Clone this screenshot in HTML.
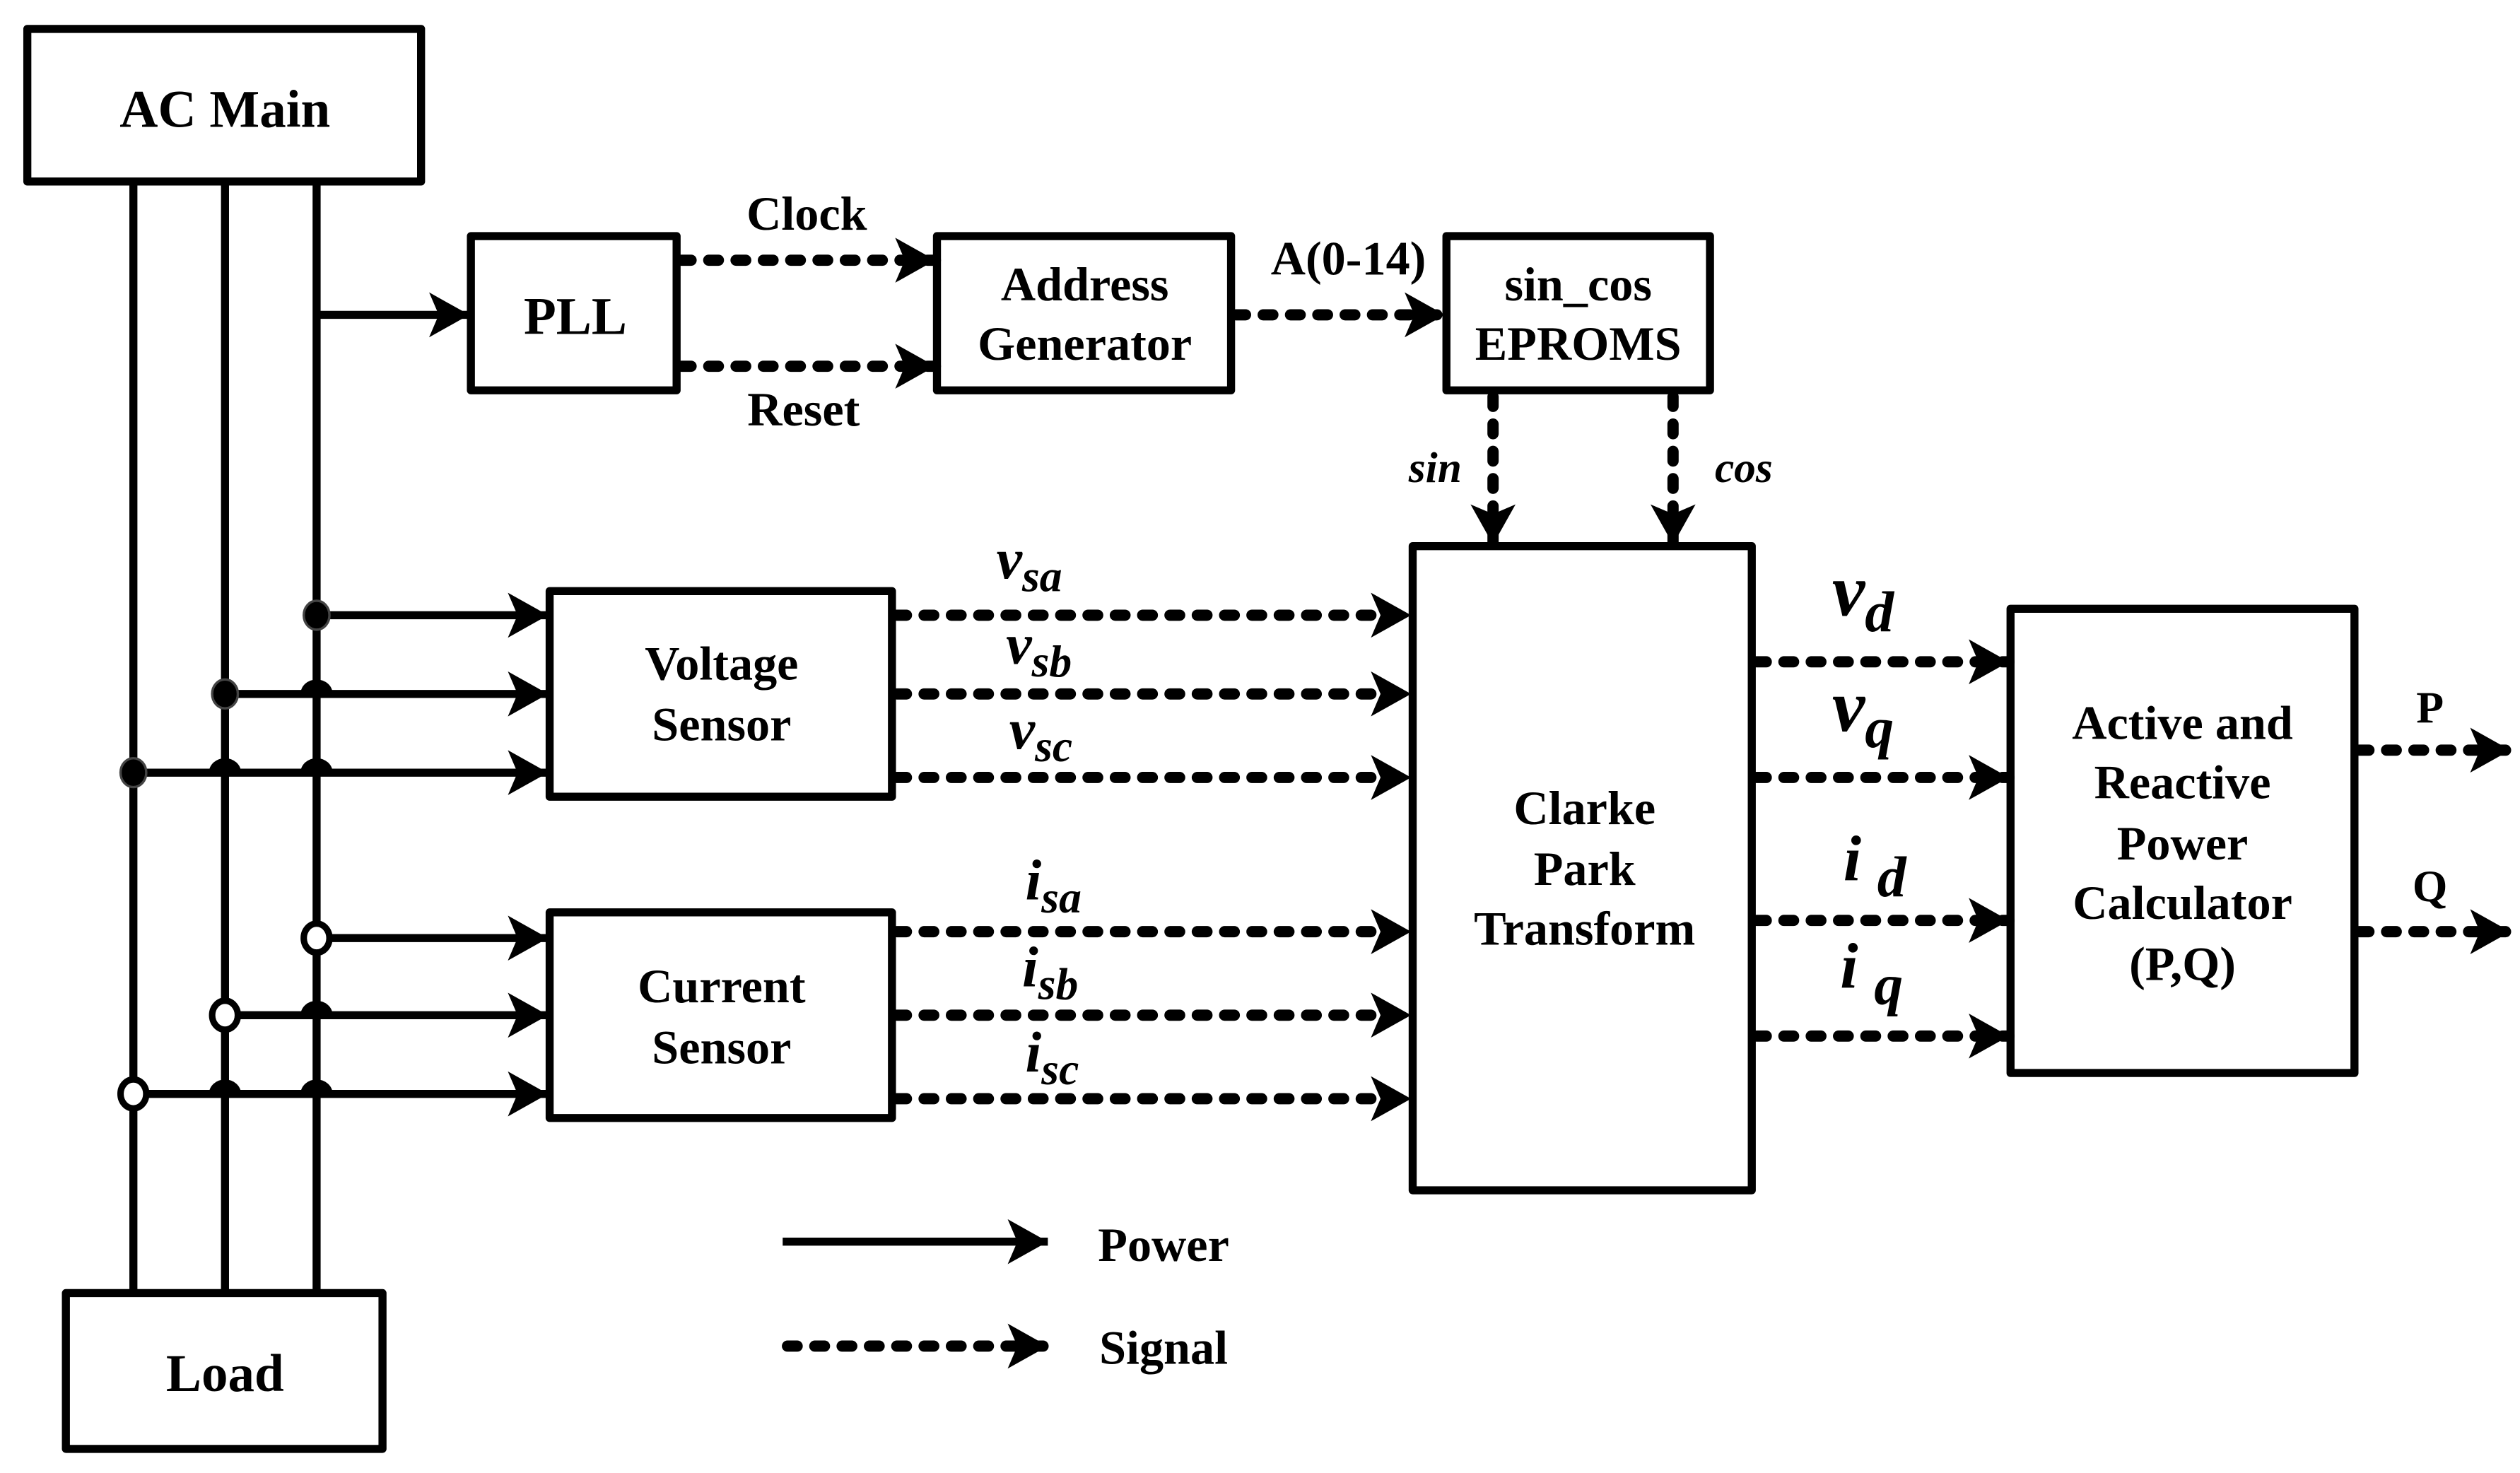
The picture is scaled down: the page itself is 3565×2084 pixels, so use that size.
<!DOCTYPE html>
<html><head><meta charset="utf-8"><style>
html,body{margin:0;padding:0;background:#fff}
svg{display:block}
text{font-family:"Liberation Serif","Times New Roman","DejaVu Serif",serif;font-weight:bold;fill:#000}
</style></head><body>
<svg width="3565" height="2084" viewBox="0 0 1568 917" preserveAspectRatio="none" xmlns="http://www.w3.org/2000/svg">
<defs>
<marker id="a" markerUnits="userSpaceOnUse" markerWidth="30" markerHeight="30" refX="25" refY="14" orient="auto">
<path d="M0,0 L25,14 L0,28 L6,14 z" fill="#000"/>
</marker>
</defs>
<g fill="none" stroke="#000" stroke-width="5" stroke-linejoin="round">
<rect x="17" y="18" width="245" height="95"/>
<rect x="41" y="805" width="197" height="97"/>
<rect x="293" y="147" width="128" height="96"/>
<rect x="583" y="147" width="183" height="96"/>
<rect x="900" y="147" width="164" height="96"/>
<rect x="879" y="340" width="211" height="401"/>
<rect x="342" y="368" width="213" height="128"/>
<rect x="342" y="568" width="213" height="128"/>
<rect x="1251" y="379" width="214" height="289"/>
</g>
<g stroke="#000" stroke-width="5" fill="none">
<line x1="83" y1="113" x2="83" y2="805"/>
<line x1="140" y1="113" x2="140" y2="805"/>
<line x1="197" y1="113" x2="197" y2="805"/>
<g marker-end="url(#a)">
<line x1="197" y1="196" x2="292" y2="196"/>
<line x1="197" y1="383" x2="341" y2="383"/>
<line x1="140" y1="432" x2="341" y2="432"/>
<line x1="83" y1="481" x2="341" y2="481"/>
<line x1="197" y1="584" x2="341" y2="584"/>
<line x1="140" y1="632" x2="341" y2="632"/>
<line x1="83" y1="681" x2="341" y2="681"/>
<line x1="487" y1="773" x2="652" y2="773"/>
</g>
</g>
<g fill="#000">
<path d="M187,432 A10,9 0 0 1 207,432 z"/>
<path d="M130,481 A10,9 0 0 1 150,481 z"/>
<path d="M187,481 A10,9 0 0 1 207,481 z"/>
<path d="M187,632 A10,9 0 0 1 207,632 z"/>
<path d="M130,681 A10,9 0 0 1 150,681 z"/>
<path d="M187,681 A10,9 0 0 1 207,681 z"/>
</g>
<g fill="#000" stroke="#444" stroke-width="1.5">
<ellipse cx="197" cy="383" rx="8" ry="9"/>
<ellipse cx="140" cy="432" rx="8" ry="9"/>
<ellipse cx="83" cy="481" rx="8" ry="9"/>
</g>
<g fill="#fff" stroke="#000" stroke-width="4">
<ellipse cx="197" cy="584" rx="8" ry="9"/>
<ellipse cx="140" cy="632" rx="8" ry="9"/>
<ellipse cx="83" cy="681" rx="8" ry="9"/>
</g>
<g stroke="#000" stroke-width="7" stroke-linecap="round" stroke-dasharray="6 11" fill="none" marker-end="url(#a)">
<line x1="424" y1="162" x2="582" y2="162"/>
<line x1="424" y1="228" x2="582" y2="228"/>
<line x1="769" y1="196" x2="899" y2="196"/>
<line x1="929" y1="247" x2="929" y2="339"/>
<line x1="1041" y1="247" x2="1041" y2="339"/>
<line x1="558" y1="383" x2="878" y2="383"/>
<line x1="558" y1="432" x2="878" y2="432"/>
<line x1="558" y1="484" x2="878" y2="484"/>
<line x1="558" y1="580" x2="878" y2="580"/>
<line x1="558" y1="632" x2="878" y2="632"/>
<line x1="558" y1="684" x2="878" y2="684"/>
<line x1="1093" y1="412" x2="1250" y2="412"/>
<line x1="1093" y1="484" x2="1250" y2="484"/>
<line x1="1093" y1="573" x2="1250" y2="573"/>
<line x1="1093" y1="645" x2="1250" y2="645"/>
<line x1="1468" y1="467" x2="1562" y2="467"/>
<line x1="1468" y1="580" x2="1562" y2="580"/>
<line x1="490" y1="838" x2="652" y2="838"/>
</g>
<g text-anchor="middle" font-size="30">
<text x="140" y="79" font-size="33">AC Main</text>
<text x="140" y="866" font-size="33">Load</text>
<text x="358" y="208" font-size="33">PLL</text>
<text x="675" y="187">Address</text>
<text x="675" y="224">Generator</text>
<text x="982" y="187">sin_cos</text>
<text x="982" y="224">EPROMS</text>
<text x="502" y="143">Clock</text>
<text x="500" y="265">Reset</text>
<text x="839" y="171">A(0-14)</text>
<text x="449" y="423">Voltage</text>
<text x="449" y="461">Sensor</text>
<text x="449" y="624">Current</text>
<text x="449" y="662">Sensor</text>
<text x="986" y="513">Clarke</text>
<text x="986" y="551">Park</text>
<text x="986" y="588">Transform</text>
<text x="1358" y="460">Active and</text>
<text x="1358" y="497">Reactive</text>
<text x="1358" y="535">Power</text>
<text x="1358" y="572">Calculator</text>
<text x="1358" y="610">(P,Q)</text>
<text x="1512" y="450" font-size="28">P</text>
<text x="1512" y="561" font-size="28">Q</text>
<text x="724" y="785">Power</text>
<text x="724" y="849">Signal</text>
</g>
<g font-style="italic">
<text x="893" y="300" font-size="27" text-anchor="middle">sin</text>
<text x="1085" y="300" font-size="27" text-anchor="middle">cos</text>
<text x="620" y="360" font-size="36">v<tspan font-size="28" dy="8">sa</tspan></text>
<text x="626" y="413" font-size="36">v<tspan font-size="28" dy="8">sb</tspan></text>
<text x="628" y="466" font-size="36">v<tspan font-size="28" dy="8">sc</tspan></text>
<text x="638" y="560" font-size="36">i<tspan font-size="28" dy="8">sa</tspan></text>
<text x="636" y="614" font-size="36">i<tspan font-size="28" dy="8">sb</tspan></text>
<text x="638" y="667" font-size="36">i<tspan font-size="28" dy="8">sc</tspan></text>
<text x="1140" y="383" font-size="46">v<tspan font-size="36" dy="10">d</tspan></text>
<text x="1140" y="455" font-size="46">v<tspan font-size="36" dy="10">q</tspan></text>
<text x="1147" y="548" font-size="40">i <tspan font-size="36" dy="10">d</tspan></text>
<text x="1145" y="615" font-size="40">i <tspan font-size="36" dy="10">q</tspan></text>
</g>
</svg>
</body></html>
